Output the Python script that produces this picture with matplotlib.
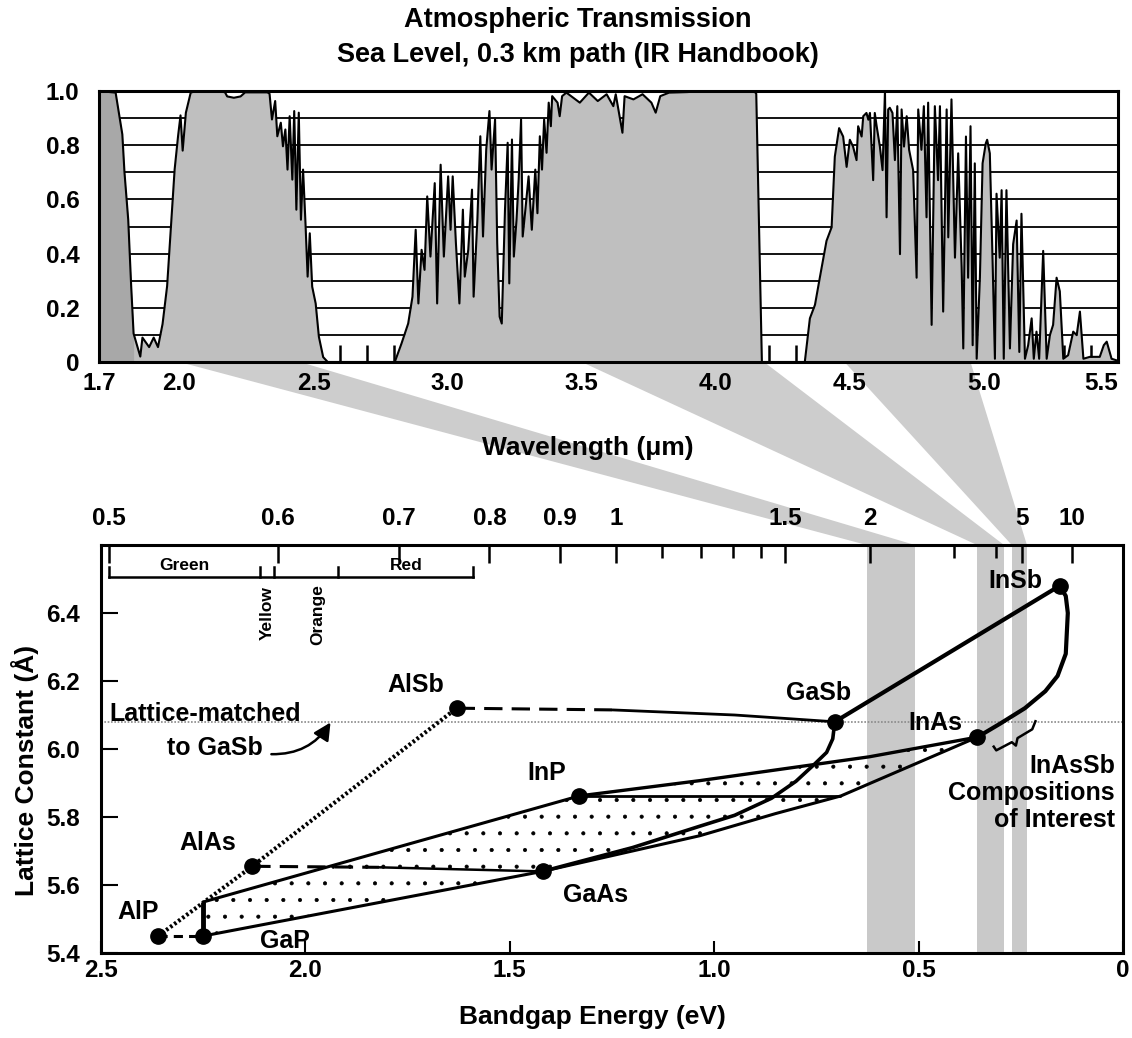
import numpy as np
import matplotlib
matplotlib.use('Agg')
import matplotlib.pyplot as plt
from matplotlib.patches import Polygon

plt.rcParams['font.family'] = ['Liberation Sans', 'DejaVu Sans']
plt.rcParams['font.weight'] = 'bold'
plt.rcParams['hatch.linewidth'] = 0.5

# Atmospheric transmission, sea level, 0.3 km path
wl = [1.700, 1.762, 1.787, 1.795, 1.809, 1.820, 1.829, 1.854, 1.862, 1.887,
      1.904, 1.920, 1.937, 1.954, 1.970, 1.982, 1.995, 2.004, 2.012, 2.024,
      2.042, 2.062, 2.150, 2.170, 2.178, 2.203, 2.228, 2.245, 2.328,
      2.336, 2.345, 2.357, 2.365, 2.378, 2.386, 2.395, 2.403, 2.411, 2.421,
      2.428, 2.436, 2.445, 2.453, 2.461, 2.470, 2.478, 2.486, 2.495, 2.508,
      2.520, 2.536, 2.553, 2.794,
      2.803, 2.828, 2.853, 2.869, 2.881, 2.891, 2.903, 2.914, 2.924, 2.936,
      2.952, 2.961, 2.974, 2.986, 3.002, 3.011, 3.019, 3.031, 3.044, 3.057,
      3.064, 3.077, 3.091, 3.097, 3.111, 3.122, 3.132, 3.144, 3.156, 3.164,
      3.177, 3.185, 3.194, 3.202, 3.214, 3.224, 3.230, 3.240, 3.247, 3.257,
      3.265, 3.274, 3.280, 3.290, 3.302, 3.314, 3.327, 3.335, 3.344, 3.352,
      3.360, 3.369, 3.377, 3.385, 3.390, 3.410, 3.418, 3.427, 3.443, 3.493,
      3.527, 3.560, 3.593, 3.618, 3.627, 3.652, 3.660, 3.693, 3.727, 3.760,
      3.776, 3.793, 3.826, 3.893, 3.960, 4.143, 4.151, 4.172, 4.332,
      4.351, 4.370, 4.388, 4.413, 4.432, 4.444, 4.460, 4.475, 4.488, 4.500,
      4.512, 4.525, 4.531, 4.544, 4.550, 4.562, 4.569, 4.575, 4.587, 4.593,
      4.600, 4.612, 4.622, 4.631, 4.637, 4.643, 4.649, 4.659, 4.668, 4.677,
      4.687, 4.693, 4.702, 4.712, 4.721, 4.736, 4.749, 4.755, 4.767, 4.776,
      4.786, 4.792, 4.805, 4.817, 4.829, 4.836, 4.848, 4.861, 4.867, 4.879,
      4.892, 4.904, 4.917, 4.923, 4.933, 4.941, 4.950, 4.958, 4.966, 4.973,
      4.985, 4.995, 5.007, 5.012, 5.022, 5.032, 5.041, 5.047, 5.059, 5.066,
      5.074, 5.084, 5.097, 5.109, 5.122, 5.132, 5.140, 5.153, 5.165, 5.178,
      5.186, 5.196, 5.206, 5.221, 5.234, 5.246, 5.258, 5.271, 5.283, 5.296,
      5.314, 5.333, 5.346, 5.358, 5.371, 5.395, 5.432, 5.447, 5.458, 5.476,
      5.495, 5.500]
trans = [1.0, 0.994, 0.84, 0.70, 0.525, 0.28, 0.105, 0.02, 0.09, 0.055,
         0.09, 0.055, 0.14, 0.28, 0.525, 0.71, 0.835, 0.91, 0.78, 0.92,
         0.994, 1.0, 1.0, 0.995, 0.98, 0.975, 0.98, 0.995, 0.995,
         0.99, 0.895, 0.963, 0.833, 0.883, 0.796, 0.858, 0.71, 0.907, 0.673,
         0.926, 0.562, 0.92, 0.525, 0.71, 0.512, 0.315, 0.475, 0.278, 0.216,
         0.093, 0.018, 0.0, 0.0,
         0.0, 0.068, 0.142, 0.241, 0.488, 0.216, 0.414, 0.34, 0.611, 0.389,
         0.66, 0.216, 0.728, 0.389, 0.685, 0.488, 0.685, 0.438, 0.216, 0.562,
         0.315, 0.414, 0.636, 0.241, 0.525, 0.833, 0.463, 0.784, 0.926, 0.71,
         0.895, 0.438, 0.167, 0.142, 0.562, 0.809, 0.29, 0.821, 0.389, 0.525,
         0.673, 0.895, 0.463, 0.562, 0.685, 0.488, 0.71, 0.549, 0.833, 0.71,
         0.895, 0.772, 0.957, 0.87, 0.981, 0.957, 0.907, 0.981, 0.994, 0.957,
         0.994, 0.963, 0.988, 0.944, 0.988, 0.846, 0.981, 0.969, 0.988, 0.957,
         0.92, 0.981, 0.994, 0.996, 1.0, 1.0, 0.99, 0.0, 0.0,
         0.161, 0.211, 0.311, 0.447, 0.497, 0.758, 0.863, 0.832, 0.72, 0.82,
         0.795, 0.745, 0.87, 0.832, 0.907, 0.919, 0.894, 0.919, 0.671, 0.919,
         0.87, 0.795, 0.708, 1.0, 0.534, 0.932, 0.938, 0.919, 0.745, 0.944,
         0.398, 0.932, 0.795, 0.907, 0.783, 0.708, 0.311, 0.932, 0.783, 0.944,
         0.534, 0.957, 0.137, 0.944, 0.671, 0.944, 0.186, 0.932, 0.46, 0.969,
         0.385, 0.77, 0.348, 0.05, 0.832, 0.311, 0.87, 0.062, 0.733, 0.012,
         0.311, 0.733, 0.807, 0.82, 0.77, 0.385, 0.012, 0.621, 0.385, 0.634,
         0.012, 0.634, 0.05, 0.435, 0.522, 0.037, 0.547, 0.012, 0.062, 0.161,
         0.012, 0.112, 0.012, 0.41, 0.012, 0.099, 0.137, 0.311, 0.261, 0.012,
         0.025, 0.112, 0.099, 0.186, 0.012, 0.019, 0.019, 0.062, 0.075, 0.012,
         0.006, 0.0]

wl_ticks = [1.7, 2.0, 2.5, 3.0, 3.5, 4.0, 4.5, 5.0, 5.5]
t_ticks = [0, 0.2, 0.4, 0.6, 0.8, 1.0]
t_labels = ['0', '0.2', '0.4', '0.6', '0.8', '1.0']

# windows of the transmission chart and their bands on the bandgap chart
win_lo = [2.0, 3.5, 4.48]
win_hi = [2.45, 4.18, 4.95]
band_hi = [0.627, 0.357, 0.272]
band_lo = [0.509, 0.291, 0.235]

# binary compounds: bandgap (eV), lattice constant (A)
names = ['AlP', 'GaP', 'AlAs', 'GaAs', 'InP', 'AlSb', 'GaSb', 'InAs', 'InSb']
gap = [2.36, 2.25, 2.13, 1.42, 1.33, 1.63, 0.705, 0.356, 0.155]
lat = [5.45, 5.45, 5.655, 5.64, 5.862, 6.12, 6.08, 6.035, 6.48]
name_e = [2.41, 2.05, 2.24, 1.29, 1.41, 1.73, 0.745, 0.46, 0.263]
name_a = [5.52, 5.435, 5.724, 5.57, 5.928, 6.188, 6.166, 6.076, 6.494]

# alloy lines
al_e, al_a = [2.36, 2.13, 1.63], [5.45, 5.655, 6.12]
alp_gap_e, alp_gap_a = [2.36, 2.25], [5.45, 5.45]
bar_e, bar_a = [2.25, 2.25], [5.45, 5.55]
gap_inp_e, gap_inp_a = [2.25, 1.33], [5.55, 5.862]
gap_gaas_e, gap_gaas_a = [2.25, 1.42], [5.45, 5.64]
alas_dash_e, alas_dash_a = [2.13, 1.82], [5.655, 5.652]
alas_solid_e, alas_solid_a = [1.82, 1.42], [5.652, 5.64]
alsb_dash_e, alsb_dash_a = [1.63, 1.25], [6.12, 6.115]
alsb_solid_e, alsb_solid_a = [1.25, 0.95, 0.705], [6.115, 6.1, 6.08]
gaas_inas_e = [1.42, 1.2, 1.035, 0.85, 0.69, 0.356]
gaas_inas_a = [5.64, 5.70, 5.745, 5.81, 5.862, 6.035]
gasb_gaas_e = [0.705, 0.71, 0.725, 0.755, 0.80, 0.86, 0.95, 1.035, 1.2, 1.42]
gasb_gaas_a = [6.08, 6.03, 5.99, 5.955, 5.905, 5.855, 5.805, 5.773, 5.71, 5.64]
inp_inas_e, inp_inas_a = [1.33, 1.035, 0.621, 0.356], [5.862, 5.907, 5.977, 6.035]
inp_flat_e, inp_flat_a = [1.33, 0.69], [5.862, 5.862]
gasb_insb_e, gasb_insb_a = [0.705, 0.155], [6.08, 6.48]
insb_inas_e = [0.155, 0.14, 0.135, 0.14, 0.16, 0.19, 0.24, 0.30, 0.356]
insb_inas_a = [6.48, 6.45, 6.40, 6.28, 6.215, 6.17, 6.12, 6.075, 6.035]
brace_e = [0.318, 0.310, 0.272, 0.262, 0.258, 0.222, 0.213]
brace_a = [6.010, 5.996, 6.020, 6.010, 6.032, 6.058, 6.085]
quat_e = [2.25, 2.25, 1.33, 1.035, 0.621, 0.356, 0.69, 1.035, 1.42]
quat_a = [5.45, 5.55, 5.862, 5.907, 5.977, 6.035, 5.862, 5.745, 5.64]
gasb_match = 6.08

# colour bracket (wavelength, um)
colour_edges = [0.5, 0.587, 0.597, 0.646, 0.78]

top_wl_labels = [0.5, 0.6, 0.7, 0.8, 0.9, 1, 1.5, 2, 5, 10]
top_wl_minor = [1.1, 1.2, 1.3, 1.4, 3, 4]
e_ticks = [2.5, 2.0, 1.5, 1.0, 0.5, 0]
e_labels = ['2.5', '2.0', '1.5', '1.0', '0.5', '0']
a_ticks = [5.4, 5.6, 5.8, 6.0, 6.2, 6.4]

W, H = 1132, 1038
fig = plt.figure(figsize=(W / 100, H / 100), dpi=100)

def px(x0, y0, x1, y1):
    return [x0 / W, 1 - y1 / H, (x1 - x0) / W, (y1 - y0) / H]

# ---- transmission chart ----
ax1 = fig.add_axes(px(99, 91, 1118, 362))
ax1.set_xlim(1.7, 5.5)
ax1.set_ylim(0, 1.0)
for g in np.arange(0.1, 0.95, 0.1):
    ax1.axhline(g, color='black', lw=1.3, zorder=1)
wl_a = np.array(wl)
tr_a = np.array(trans)
ax1.fill_between(wl_a, tr_a, 0, color='#bfbfbf', lw=0, zorder=2)
first = wl_a <= 1.83
ax1.fill_between(wl_a[first], tr_a[first], 0, color='#a8a8a8', lw=0, zorder=2)
ax1.plot(wl_a, tr_a, color='black', lw=1.5, zorder=3)
ax1.set_xticks(wl_ticks)
ax1.set_xticklabels([f'{v:.1f}' for v in wl_ticks])
ax1.get_xticklabels()[-1].set_ha('right')
ax1.set_xticks(np.arange(1.8, 5.45, 0.1), minor=True)
ax1.set_yticks(t_ticks)
ax1.set_yticklabels(t_labels)
ax1.tick_params(axis='x', which='both', direction='in', length=12, width=1.8,
                labelsize=17.5, pad=7, zorder=4)
ax1.tick_params(axis='y', length=0, labelsize=17.5, pad=14)
for s in ax1.spines.values():
    s.set_linewidth(2.2)
    s.set_zorder(5)

fig.text(578 / W, 1 - 20 / H, 'Atmospheric Transmission', ha='center',
         va='center', fontsize=19.5)
fig.text(578 / W, 1 - 55 / H, 'Sea Level, 0.3 km path (IR Handbook)',
         ha='center', va='center', fontsize=19.5)
fig.text(588 / W, 1 - 448 / H, 'Wavelength (\u03bcm)', ha='center',
         va='center', fontsize=19, zorder=6)

# ---- bandgap chart ----
ax2 = fig.add_axes(px(101, 545, 1123, 953))
ax2.set_xlim(2.5, 0)
ax2.set_ylim(5.4, 6.6)
for hi, lo in zip(band_hi, band_lo):
    ax2.axvspan(lo, hi, color='#c9c9c9', lw=0, zorder=0.5)
ax2.axhline(gasb_match, color='#8a8a8a', lw=1.2, ls=(0, (1, 1)), zorder=1)

quat = Polygon(list(zip(quat_e, quat_a)), closed=True, facecolor='none',
               edgecolor='black', lw=0, hatch='.', zorder=1.5)
ax2.add_patch(quat)

lk = dict(color='black', zorder=3, solid_capstyle='butt')
ax2.plot(al_e, al_a, lw=3, ls=(0, (0.6, 0.6)), **lk)
ax2.plot(alp_gap_e, alp_gap_a, lw=2.2, ls=(0, (3, 2)), **lk)
ax2.plot(bar_e, bar_a, lw=3.5, **lk)
ax2.plot(gap_inp_e, gap_inp_a, lw=2.2, **lk)
ax2.plot(gap_gaas_e, gap_gaas_a, lw=2.2, **lk)
ax2.plot(alas_dash_e, alas_dash_a, lw=2.2, ls=(0, (6, 3)), **lk)
ax2.plot(alas_solid_e, alas_solid_a, lw=1.8, **lk)
ax2.plot(alsb_dash_e, alsb_dash_a, lw=2.2, ls=(0, (6, 3)), **lk)
ax2.plot(alsb_solid_e, alsb_solid_a, lw=2.0, **lk)
ax2.plot(gaas_inas_e, gaas_inas_a, lw=2.2, **lk)
ax2.plot(gasb_gaas_e, gasb_gaas_a, lw=2.6, **lk)
ax2.plot(inp_inas_e, inp_inas_a, lw=2.4, **lk)
ax2.plot(inp_flat_e, inp_flat_a, lw=2.0, **lk)
ax2.plot(gasb_insb_e, gasb_insb_a, lw=3, **lk)
ax2.plot(insb_inas_e, insb_inas_a, lw=3, **lk)
ax2.plot(brace_e, brace_a, lw=1.8, **lk)
ax2.plot(gap, lat, 'o', color='black', ms=11, zorder=4)

for n, e, a in zip(names, name_e, name_a):
    ax2.text(e, a, n, ha='center', va='center', fontsize=18, zorder=6)
ax2.text(0.02, 5.87, 'InAsSb\nCompositions\nof Interest', ha='right',
         va='center', multialignment='right', fontsize=18, linespacing=1.15,
         zorder=6)
ax2.text(2.48, 6.083, 'Lattice-matched', ha='left', va='baseline',
         fontsize=18, zorder=6)
ax2.text(2.105, 6.003, 'to GaSb', ha='right', va='center', fontsize=18,
         zorder=6)
ax2.annotate('', xy=(1.935, 6.085), xytext=(2.09, 5.985),
             arrowprops=dict(arrowstyle='-|>', connectionstyle='arc3,rad=0.3',
                             lw=1.8, color='black', mutation_scale=26),
             zorder=6)

# colour bracket along the top
ce = [1.2398 / v for v in colour_edges]
br_y, br_t = 6.506, 6.535
ax2.plot([ce[0], ce[-1]], [br_y, br_y], color='black', lw=1.8, zorder=3)
for e in ce:
    ax2.plot([e, e], [br_y, br_t], color='black', lw=1.8, zorder=3)
ax2.text((ce[0] + ce[1]) / 2, 6.54, 'Green', ha='center', va='center', fontsize=12.5)
ax2.text((ce[3] + ce[4]) / 2, 6.54, 'Red', ha='center', va='center', fontsize=12.5)
ax2.text((ce[1] + ce[2]) / 2, 6.40, 'Yellow', ha='center', va='center',
         rotation=90, fontsize=12.5)
ax2.text(1.97, 6.395, 'Orange', ha='center', va='center', rotation=90, fontsize=12.5)

ax2.set_xticks(e_ticks)
ax2.set_xticklabels(e_labels)
ax2.set_yticks(a_ticks)
ax2.set_yticklabels([f'{v:.1f}' for v in a_ticks])
ax2.tick_params(axis='x', direction='in', length=9, width=1.5, labelsize=17.5, pad=4)
ax2.tick_params(axis='y', direction='in', length=12, width=1.5, labelsize=17.5, pad=15)
for s in ax2.spines.values():
    s.set_linewidth(2.2)

top = ax2.twiny()
top.set_xlim(2.5, 0)
top.set_xticks([1.2398 / v for v in top_wl_labels])
top.set_xticklabels([f'{v:g}' for v in top_wl_labels])
top.set_xticks([1.2398 / v for v in top_wl_minor], minor=True)
top.tick_params(axis='x', which='major', direction='in', length=13, width=1.8,
                labelsize=17.5, pad=11)
top.tick_params(axis='x', which='minor', direction='in', length=9, width=1.8)

fig.text(592 / W, 1 - 1017 / H, 'Bandgap Energy (eV)', ha='center',
         va='center', fontsize=19)
fig.text(25 / W, 1 - 770 / H, 'Lattice Constant (\u00c5)', ha='center',
         va='center', rotation=90, fontsize=19)

# projection wedges from the windows to the bands
inv = fig.transFigure.inverted()
y_top = ax2.get_ylim()[1]
for lo, hi, ehi, elo in zip(win_lo, win_hi, band_hi, band_lo):
    pts = [ax1.transData.transform((lo, 0)), ax1.transData.transform((hi, 0)),
           ax2.transData.transform((elo, y_top)), ax2.transData.transform((ehi, y_top))]
    poly = Polygon(inv.transform(pts), closed=True, transform=fig.transFigure,
                   facecolor='#cdcdcd', edgecolor='none', zorder=-1)
    fig.add_artist(poly)

fig.savefig('out.png', dpi=100)
